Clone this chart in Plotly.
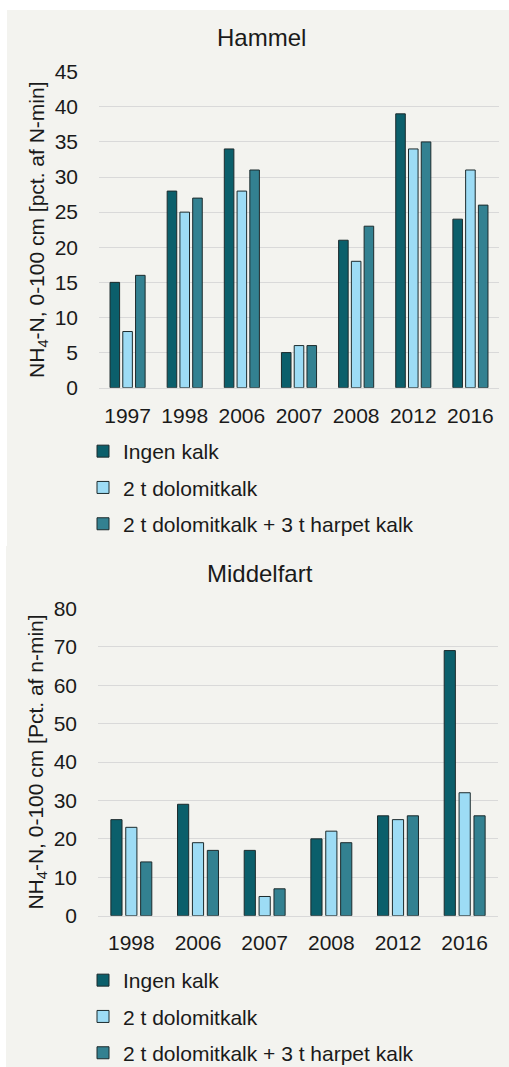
import plotly.graph_objects as go

W, H = 509, 1067

series_names = ["Ingen kalk", "2 t dolomitkalk", "2 t dolomitkalk + 3 t harpet kalk"]
colors = ["#0b5f6b", "#9ddcf5", "#338191"]

hammel_years = ["1997", "1998", "2006", "2007", "2008", "2012", "2016"]
hammel_ingen = [15, 28, 34, 5, 21, 39, 24]
hammel_dolo = [8, 25, 28, 6, 18, 34, 31]
hammel_dolo_harp = [16, 27, 31, 6, 23, 35, 26]

middel_years = ["1998", "2006", "2007", "2008", "2012", "2016"]
middel_ingen = [25, 29, 17, 20, 26, 69]
middel_dolo = [23, 19, 5, 22, 25, 32]
middel_dolo_harp = [14, 17, 7, 19, 26, 26]

FONT = "Liberation Sans, Arial, sans-serif"

fig = go.Figure()

for name, vals, col in zip(series_names, [hammel_ingen, hammel_dolo, hammel_dolo_harp], colors):
    fig.add_trace(go.Bar(x=hammel_years, y=vals, name=name, marker=dict(color=col, line=dict(color="#1c2b2d", width=1)),
                         xaxis="x", yaxis="y", legend="legend", legendgroup="h" + name))
for name, vals, col in zip(series_names, [middel_ingen, middel_dolo, middel_dolo_harp], colors):
    fig.add_trace(go.Bar(x=middel_years, y=vals, name=name, marker=dict(color=col, line=dict(color="#1c2b2d", width=1)),
                         xaxis="x2", yaxis="y2", legend="legend2", legendgroup="m" + name))

def px_x(v):
    return v / W

def px_y(v):
    return 1 - v / H

grid = "#d9d9d9"
tickfont = dict(family=FONT, size=21, color="#1a1a1a")

fig.update_layout(
    width=W, height=H,
    margin=dict(l=0, r=0, t=0, b=0, pad=0, autoexpand=False),
    paper_bgcolor="white",
    plot_bgcolor="rgba(0,0,0,0)",
    font=dict(family=FONT, size=21, color="#1a1a1a"),
    barmode="group",
    bargap=0.33,
    bargroupgap=0.25,
    xaxis=dict(domain=[px_x(99), px_x(499)], anchor="y", showgrid=False, showline=True, linecolor=grid,
               ticks="", tickfont=tickfont, ticklabelstandoff=9, fixedrange=True, automargin=False),
    yaxis=dict(domain=[px_y(387.7), px_y(71.7)], anchor="x", range=[0, 45], dtick=5, showgrid=True,
               gridcolor=grid, zeroline=False, ticks="", tickfont=tickfont, ticklabelstandoff=20, fixedrange=True,
               automargin=False,
               title=dict(text="NH<sub>4</sub>-N, 0-100 cm [pct. af N-min]", font=dict(family=FONT, size=21, color="#1a1a1a"), standoff=4)),
    xaxis2=dict(domain=[px_x(98), px_x(498)], anchor="y2", showgrid=False, showline=True, linecolor=grid,
                ticks="", tickfont=tickfont, ticklabelstandoff=8, fixedrange=True, automargin=False),
    yaxis2=dict(domain=[px_y(915.7), px_y(608.3)], anchor="x2", range=[0, 80], dtick=10, showgrid=True,
                gridcolor=grid, zeroline=False, ticks="", tickfont=tickfont, ticklabelstandoff=20, fixedrange=True,
                automargin=False,
                title=dict(text="NH<sub>4</sub>-N, 0-100 cm [Pct. af n-min]", font=dict(family=FONT, size=21, color="#1a1a1a"), standoff=4)),
    legend=dict(x=px_x(83), xanchor="left", y=px_y(431), yanchor="top", orientation="v",
                bgcolor="rgba(0,0,0,0)", font=dict(family=FONT, size=21, color="#1a1a1a"), tracegroupgap=6),
    legend2=dict(x=px_x(83), xanchor="left", y=px_y(960), yanchor="top", orientation="v",
                 bgcolor="rgba(0,0,0,0)", font=dict(family=FONT, size=21, color="#1a1a1a"), tracegroupgap=6),
    shapes=[
        dict(type="rect", xref="paper", yref="paper", x0=px_x(7), x1=1, y0=px_y(546), y1=px_y(10),
             fillcolor="#f3f3ef", line=dict(width=0), layer="below"),
        dict(type="rect", xref="paper", yref="paper", x0=px_x(6), x1=1, y0=0, y1=px_y(546),
             fillcolor="#f3f3ef", line=dict(width=0), layer="below"),
    ],
    annotations=[
        dict(text="Hammel", xref="paper", yref="paper", x=px_x(261), y=px_y(37), xanchor="center", yanchor="middle",
             showarrow=False, font=dict(family=FONT, size=24, color="#1a1a1a")),
        dict(text="Middelfart", xref="paper", yref="paper", x=px_x(260), y=px_y(573), xanchor="center", yanchor="middle",
             showarrow=False, font=dict(family=FONT, size=24, color="#1a1a1a")),
    ],
)

fig.write_html("out.html", config=dict(displayModeBar=False),
               post_script="document.body.style.margin='0px';document.body.style.overflow='hidden';")
